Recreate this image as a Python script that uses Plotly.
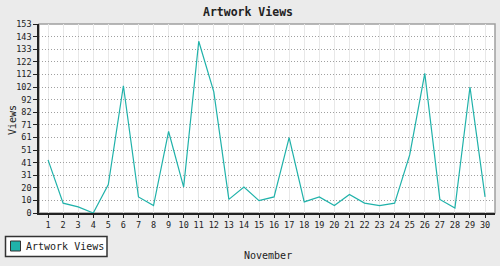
import plotly.graph_objects as go
import numpy as np

days = list(range(1, 31))
day_labels = [str(d) for d in days]
views = [43, 8, 5, 0, 23, 103, 13, 6, 66, 21, 139, 98, 11, 21, 10,
         13, 61, 9, 13, 6, 15, 8, 6, 8, 47, 113, 11, 4, 102, 13]
y_tick_labels = ["0", "10", "20", "31", "41", "51", "61", "71", "82", "92",
                 "102", "112", "122", "133", "143", "153"]
y_max = 153
series_name = "Artwork Views"
chart_title = "Artwork Views"
x_title = "November"
y_title = "Views"

line_color = "#20B2AA"
mono = "DejaVu Sans Mono"
ink = "#222222"

W, H = 500, 266
ML, MR, MT, MB = 39, 5, 24, 53
PW, PH = W - ML - MR, H - MT - MB


def px_x(px):
    return (px - ML) / PW


def px_y(py):
    return (H - MB - py) / PH


fig = go.Figure()
fig.add_trace(go.Scatter(x=days, y=views, mode="lines", name=series_name,
                         line=dict(color=line_color, width=1.2),
                         showlegend=False))

shapes = [
    dict(type="rect", xref="paper", yref="paper", x0=0, x1=1, y0=0, y1=1,
         line=dict(color="#A0A0A0", width=1.5), layer="below"),
    # legend box
    dict(type="rect", xref="paper", yref="paper",
         x0=px_x(5.5), x1=px_x(107), y0=px_y(256.5), y1=px_y(236.5),
         line=dict(color="#333333", width=1.5), fillcolor="#FFFFFF"),
    # legend key
    dict(type="rect", xref="paper", yref="paper",
         x0=px_x(10.5), x1=px_x(20.5), y0=px_y(251), y1=px_y(241),
         line=dict(color="#333333", width=1), fillcolor=line_color),
]

annotations = [
    dict(text=series_name, xref="paper", yref="paper", x=px_x(24), y=px_y(246.5),
         xanchor="left", yanchor="middle", showarrow=False,
         font=dict(family=mono, size=10, color=ink)),
    dict(text=x_title, xref="paper", yref="paper", x=px_x(268), y=px_y(255),
         xanchor="center", yanchor="middle", showarrow=False,
         font=dict(family=mono, size=10, color=ink)),
    dict(text=y_title, xref="paper", yref="paper", x=px_x(12), y=px_y(120),
         xanchor="center", yanchor="middle", showarrow=False, textangle=-90,
         font=dict(family=mono, size=10, color=ink)),
]

fig.update_layout(
    width=W, height=H,
    margin=dict(l=ML, r=MR, t=MT, b=MB, autoexpand=False),
    paper_bgcolor="#EBEBEB", plot_bgcolor="#FFFFFF",
    title=dict(text="<b>" + chart_title + "</b>", x=0.496, xanchor="center",
               y=1 - 12 / H, yanchor="middle",
               font=dict(family=mono, size=11.5, color=ink)),
    font=dict(family=mono, color=ink),
    showlegend=False,
    shapes=shapes,
    annotations=annotations,
)

fig.update_xaxes(
    range=[1 - 0.6, 30 + 0.66], tickvals=days, ticktext=day_labels,
    showgrid=True, gridcolor="#E8E8E8", gridwidth=1,
    showline=True, linecolor=ink, linewidth=1.5,
    ticks="outside", ticklen=3, tickcolor=ink,
    tickfont=dict(family=mono, size=8.5, color=ink),
    zeroline=False, fixedrange=True, automargin=False,
)
fig.update_yaxes(
    range=[0, y_max], tickvals=list(np.linspace(0, y_max, len(y_tick_labels))),
    ticktext=y_tick_labels,
    showgrid=True, gridcolor="#A0A0A0", gridwidth=1, griddash="1px,2px",
    showline=True, linecolor=ink, linewidth=1.5,
    ticks="outside", ticklen=4, tickcolor=ink,
    tickfont=dict(family=mono, size=8.5, color=ink),
    zeroline=False, fixedrange=True, automargin=False,
)

fig.write_html("out.html")
